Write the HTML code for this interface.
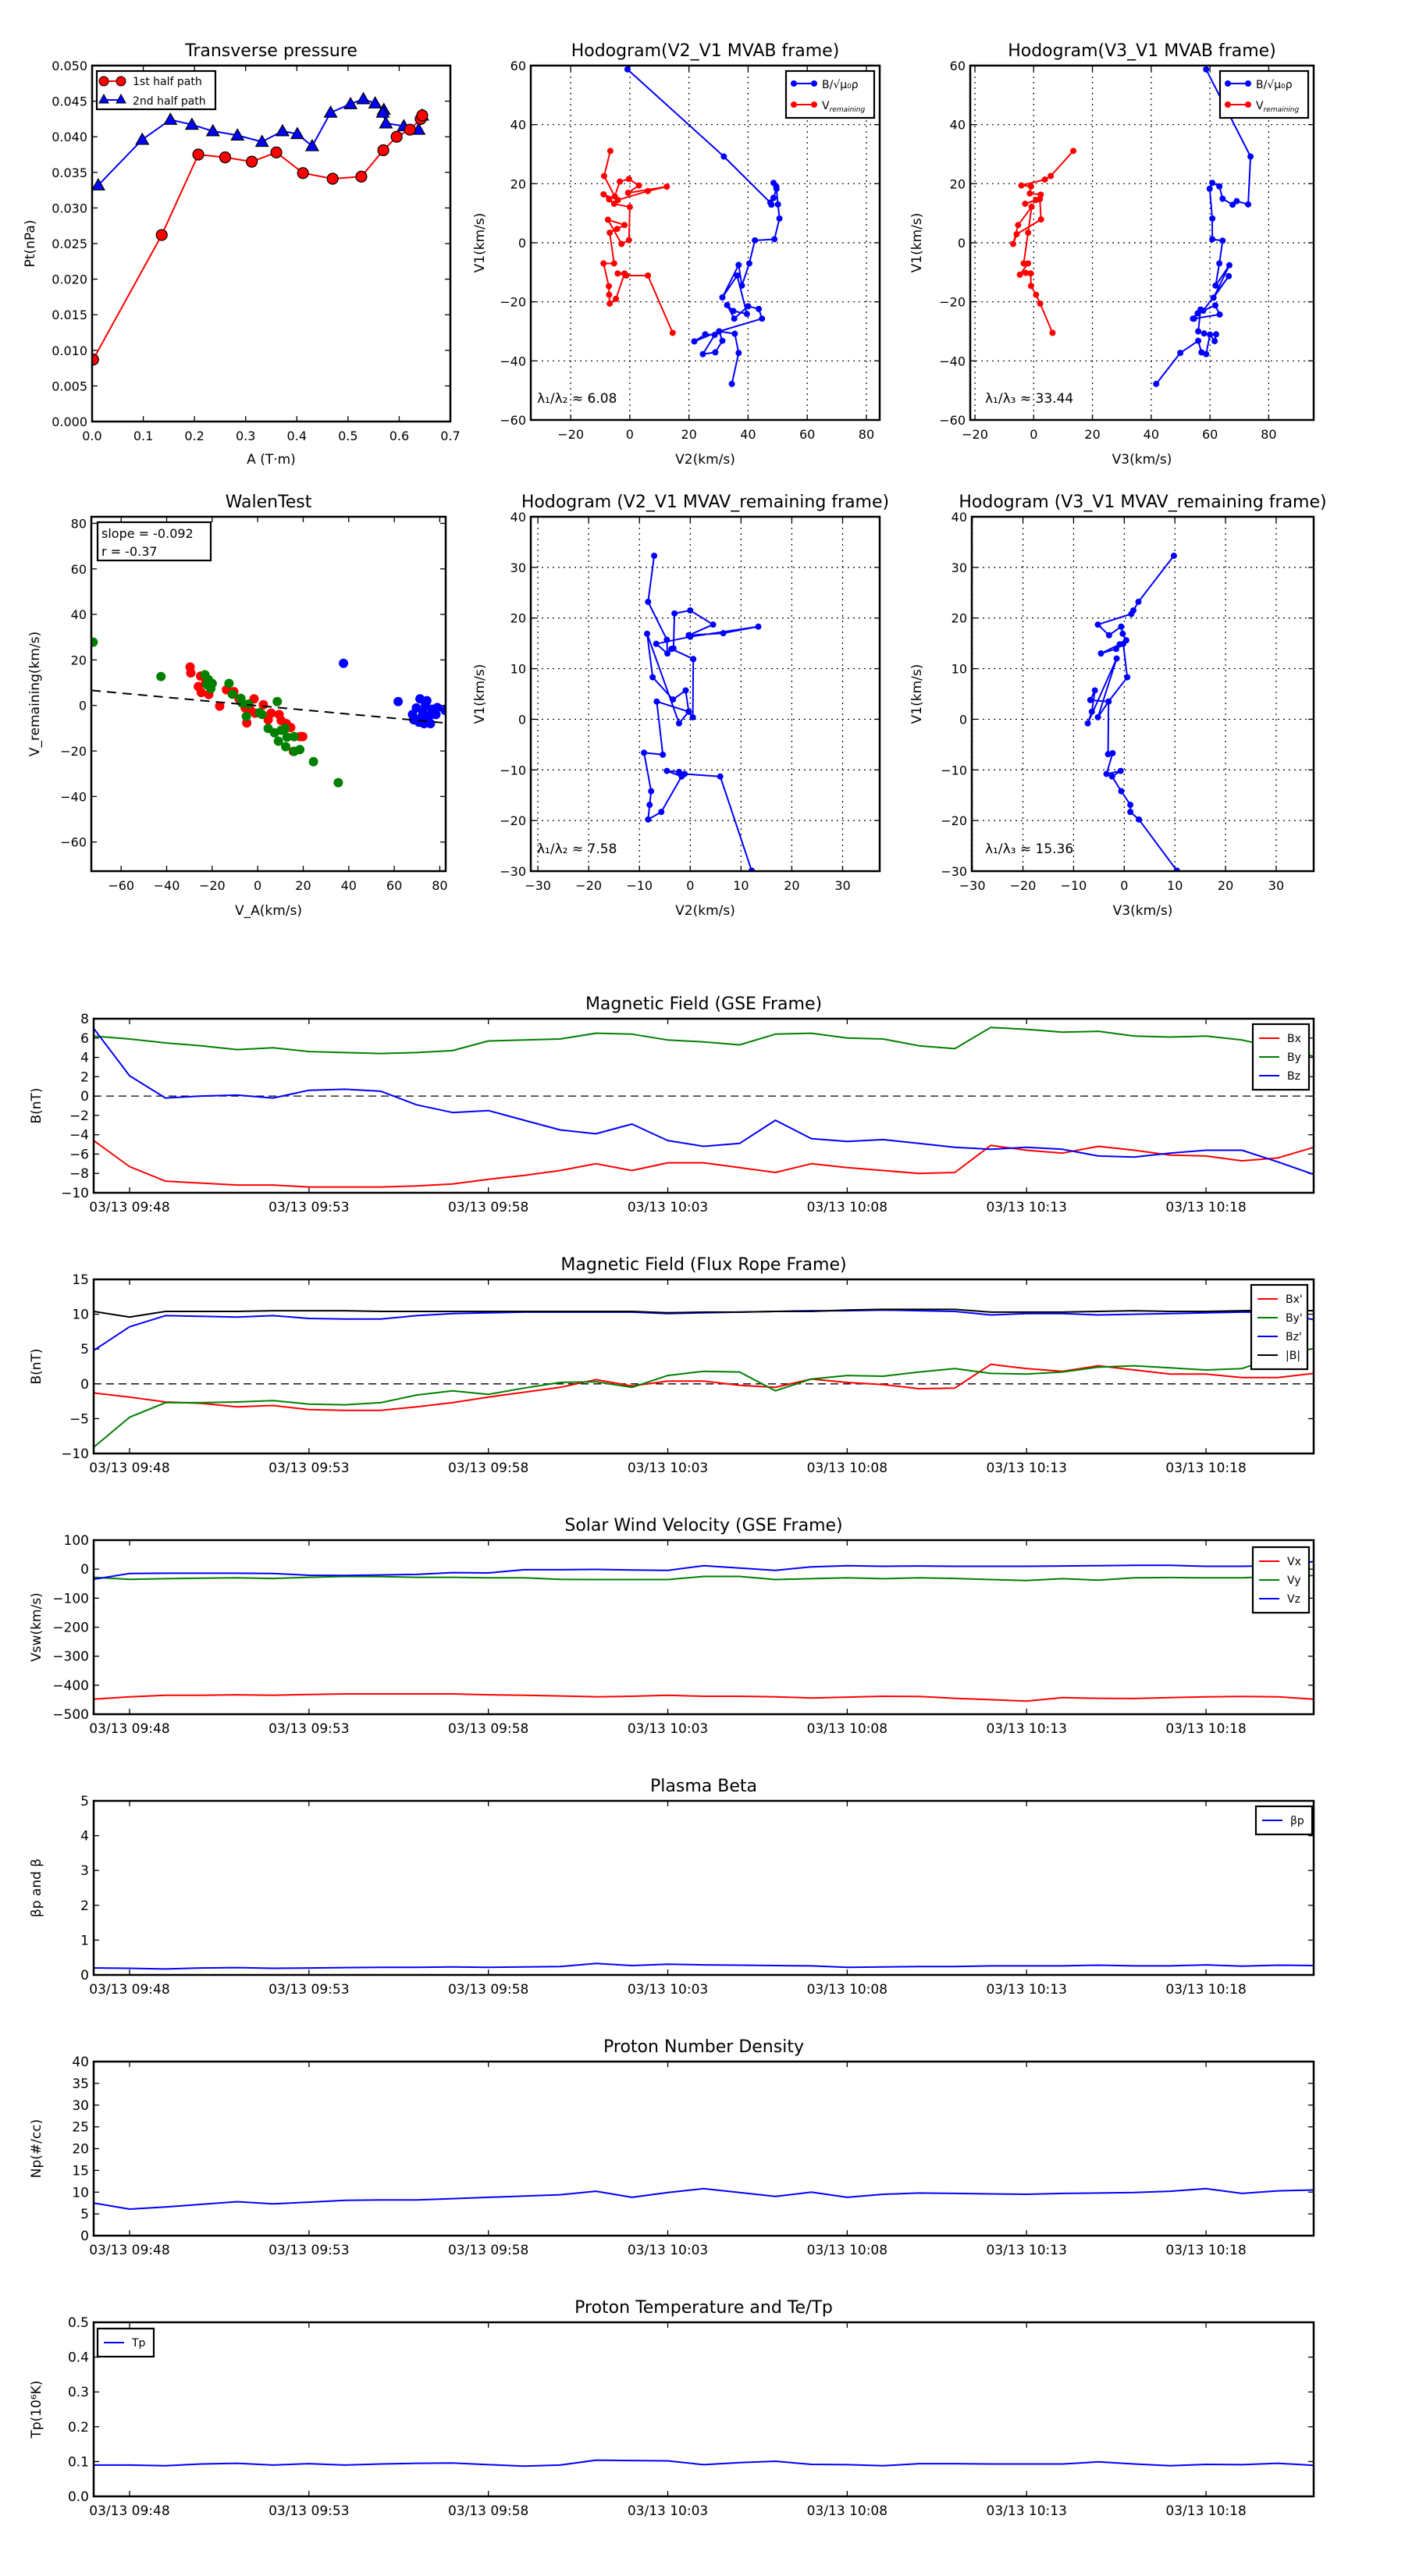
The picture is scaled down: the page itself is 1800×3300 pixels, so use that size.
<!DOCTYPE html>
<html><head><meta charset="utf-8"><title>Flux rope analysis</title>
<style>
html,body{margin:0;padding:0;background:#fff;}
svg{display:block;font-family:"DejaVu Sans","Liberation Sans",sans-serif;}
</style></head>
<body>
<svg id="fig" xmlns="http://www.w3.org/2000/svg" width="1800" height="3300" viewBox="0 0 1800 3300">
<rect x="0" y="0" width="1800" height="3300" fill="#fff"/>
</svg>
<script>
// ---------- Transverse pressure ----------
const tpA1 = [0.002,0.136,0.2075,0.26,0.312,0.36,0.412,0.47,0.526,0.569,0.595,0.621,0.642,0.645];
const tpP1 = [0.0087,0.0262,0.0375,0.0371,0.0365,0.0378,0.0349,0.0341,0.0344,0.0381,0.0400,0.0410,0.0425,0.0430];
const tpA2 = [0.012,0.098,0.153,0.195,0.236,0.284,0.332,0.372,0.401,0.43,0.466,0.505,0.53,0.553,0.57,0.568,0.574,0.609,0.638,0.645];
const tpP2 = [0.0332,0.0396,0.0424,0.0417,0.0408,0.0402,0.0393,0.0408,0.0404,0.0387,0.0434,0.0446,0.0453,0.0447,0.0438,0.0434,0.0419,0.0415,0.0410,0.0430];
// ---------- Hodogram V2-V1 MVAB ----------
const h1BV2 = [-0.8,31.8,47.5,47.9,48.6,49.6,48.6,49.5,50.1,50.6,48.9,42.3,40.4,37.9,36.8,31.3,36.3,39.6,35.0,32.9,35.3,40.0,43.6,44.7,30.2,21.8,25.5,28.7,24.7,28.9,31.3,30.2,35.5,36.8,34.5];
const h1BV1 = [58.7,29.2,13.6,12.9,15.2,18.3,20.3,19.1,13.0,8.2,1.2,0.8,-7.0,-14.5,-7.5,-18.5,-11.1,-24.1,-23.1,-21.1,-25.7,-21.5,-22.4,-25.7,-30.0,-33.4,-31.0,-31.2,-37.7,-37.1,-33.2,-30.0,-30.8,-37.3,-47.8];
const h1VV2 = [-6.6,-8.7,-5.1,-3.4,-0.3,3.1,-0.6,12.5,6.1,-4.0,-8.9,-7.0,-5.3,0,-0.3,-2.8,-7.4,-1.8,-4.3,-6.8,-5.3,-8.9,-7.1,-7.0,-6.8,-4.7,-1.8,-4.1,-1.2,6.1,14.5];
const h1VV1 = [31.1,22.6,15.7,20.7,21.6,19.4,16.9,19.0,17.5,14.5,16.4,14.7,13.2,12.1,0.9,-0.4,7.8,6.0,4.7,3.4,-7.0,-7.0,-14.7,-17.6,-20.6,-19.0,-10.4,-10.4,-11.1,-11.1,-30.5];
// ---------- Hodogram V3-V1 MVAB ----------
const h3BV3 = [58.7,73.8,73.0,69.1,67.7,64.3,63.2,60.8,59.9,60.8,60.8,64.3,63.2,61.9,66.6,61.2,66.4,57.7,55.8,61.8,63.3,54.6,54.2,56.8,56.0,58.0,62.1,61.6,60.0,58.7,57.1,56.0,49.9,41.7];
const h3BV1 = [58.7,29.2,13.0,14.1,12.9,14.9,19.1,20.3,18.3,8.2,1.2,0.7,-7.0,-14.5,-7.6,-18.6,-11.3,-23.0,-23.9,-21.2,-24.3,-25.7,-25.7,-22.6,-30.0,-30.7,-31.0,-33.3,-31.1,-37.7,-37.1,-33.2,-37.3,-47.8];
const h3VV3 = [13.5,5.8,3.8,-4.2,-0.9,-1.3,2.4,0.8,-2.9,2.1,2.5,-5.8,-7.0,-5.3,-0.7,-1.9,-3.4,-1.9,-4.7,-2.7,-1.0,-0.9,0.8,2.2,6.4];
const h3VV1 = [31.1,22.6,21.4,19.4,19.1,16.7,16.3,14.5,13.2,14.8,7.9,2.9,-0.4,6.0,12.2,3.4,-7.0,-7.0,-10.8,-10.2,-10.4,-14.6,-17.6,-20.6,-30.5];
// ---------- Walen test ----------
const walenSlope = -0.092;
const walenIntercept = -0.1;
const wRedX = [-29.7,-29.4,-25.1,-26.1,-24.8,-21.5,-16.7,-13.7,-10.5,-8.2,-5.5,-4.8,-1.6,-1.1,2.5,4.6,5.9,9.4,10.3,12.6,14.5,18.6,19.8,15.7,-22.9,-3.4];
const wRedY = [16.9,14.3,12.9,8.3,5.7,4.8,-0.3,6.9,6.1,2.9,-1.1,-7.7,2.9,-3.4,0.3,-6.3,-3.4,-4.0,-6.6,-8.0,-9.7,-13.7,-13.7,-20.2,9.7,-1.7];
const wGreenX = [-72.3,-42.5,-23.2,-21.7,-20.0,-22.3,-20.6,-12.6,-11.1,-7.4,-6.9,-4.0,-5.0,0.8,1.9,8.6,4.6,7.4,10.3,12.0,9.1,12.3,16.0,12.9,18.5,16.0,24.5,35.4];
const wGreenY = [27.8,12.7,13.5,11.4,9.7,9.1,7.4,9.7,4.9,3.1,1.1,0.6,-4.8,-3.2,-3.9,1.7,-10.1,-12.0,-10.9,-10.1,-15.7,-18.1,-13.7,-13.9,-19.4,-20.2,-24.7,-33.9];
const wBlueX = [37.7,61.7,71.3,74.3,78.9,82.3,68.0,69.7,72.6,75.4,73.1,70.9,75.9,78.3,68.6,73.7,76.6,72.0];
const wBlueY = [18.5,1.7,2.9,2.1,-0.9,-2.1,-4.0,-1.1,-2.9,-4.6,-8.0,-7.4,-8.0,-4.0,-6.3,0.0,-1.7,-5.1];
// ---------- Hodogram MVAV V2 ----------
const h4V2 = [-7.1,-8.3,-4.6,-4.5,-6.7,0,13.4,6.5,-0.3,4.5,0,-3.1,-3.3,-3.7,0.6,0.5,-0.3,-0.9,-3.4,-7.4,-8.5,-2.2,-0.3,-6.6,-5.4,-9.1,-7.7,-8.0,-8.3,-5.7,-1.7,-4.6,-2.2,-1.1,5.9,12.1];
const h4V1 = [32.3,23.2,15.7,13.0,14.9,16.3,18.3,17.0,16.6,18.7,21.5,20.9,14.0,13.9,11.9,0.4,1.5,5.7,3.9,8.3,16.9,-0.8,1.5,3.5,-7.0,-6.6,-14.2,-16.9,-19.8,-18.3,-11.3,-10.2,-10.4,-10.8,-11.3,-29.9];
// ---------- Hodogram MVAV V3 ----------
const h5V3 = [9.8,2.8,1.8,1.4,-5.2,-3.0,-0.6,-0.3,0.4,-0.9,-4.6,-1.6,-0.2,0.6,-3.1,-6.7,-5.8,-6.4,-7.2,-1.5,-5.2,-3.1,-3.2,-2.3,-3.5,-0.7,-2.4,-0.6,1.2,1.2,2.9,10.4];
const h5V1 = [32.3,23.2,21.5,20.8,18.7,16.6,18.3,16.9,15.6,14.8,13.0,13.9,14.9,8.3,3.5,3.8,5.7,1.5,-0.8,12.0,0.4,3.5,-6.9,-6.7,-10.8,-10.2,-11.3,-14.2,-16.9,-18.3,-19.8,-29.9];
// ---------- Time series (one sample per minute from 09:47) ----------
const timeTickLabels = ["03/13 09:48","03/13 09:53","03/13 09:58","03/13 10:03","03/13 10:08","03/13 10:13","03/13 10:18"];
const timeTickMinutes = [1,6,11,16,21,26,31];
const gseBx = [-4.6,-7.3,-8.8,-9.0,-9.2,-9.2,-9.4,-9.4,-9.4,-9.3,-9.1,-8.6,-8.2,-7.7,-7.0,-7.7,-6.9,-6.9,-7.4,-7.9,-7.0,-7.4,-7.7,-8.0,-7.9,-5.1,-5.6,-5.9,-5.2,-5.6,-6.1,-6.2,-6.7,-6.4,-5.3];
const gseBy = [6.2,5.9,5.5,5.2,4.8,5.0,4.6,4.5,4.4,4.5,4.7,5.7,5.8,5.9,6.5,6.4,5.8,5.6,5.3,6.4,6.5,6.0,5.9,5.2,4.9,7.1,6.9,6.6,6.7,6.2,6.1,6.2,5.8,5.0,4.1];
const gseBz = [7,2.1,-0.2,0,0.1,-0.2,0.6,0.7,0.5,-0.9,-1.7,-1.5,-2.5,-3.5,-3.9,-2.9,-4.6,-5.2,-4.9,-2.5,-4.4,-4.7,-4.5,-4.9,-5.3,-5.5,-5.3,-5.5,-6.2,-6.3,-5.9,-5.6,-5.6,-6.8,-8.1];
const frBx = [-1.3,-1.9,-2.6,-2.8,-3.3,-3.1,-3.7,-3.8,-3.8,-3.3,-2.7,-1.9,-1.2,-0.5,0.6,-0.3,0.4,0.4,-0.2,-0.5,0.7,0.2,-0.1,-0.7,-0.6,2.8,2.2,1.8,2.6,2.0,1.4,1.4,0.9,0.9,1.5];
const frBy = [-9.1,-4.8,-2.7,-2.7,-2.6,-2.4,-2.9,-3.0,-2.7,-1.6,-1.0,-1.5,-0.6,0.2,0.3,-0.5,1.2,1.8,1.7,-1.0,0.7,1.2,1.1,1.7,2.2,1.5,1.4,1.7,2.4,2.6,2.3,2.0,2.2,3.9,5.1];
const frBz = [4.8,8.2,9.8,9.7,9.6,9.8,9.4,9.3,9.3,9.8,10.1,10.2,10.3,10.3,10.3,10.3,10.1,10.2,10.3,10.4,10.5,10.5,10.6,10.5,10.4,9.9,10.1,10.1,9.9,10.0,10.1,10.2,10.3,10.3,9.2];
const frBt = [10.4,9.6,10.4,10.4,10.4,10.5,10.5,10.5,10.4,10.4,10.4,10.4,10.4,10.4,10.4,10.4,10.2,10.3,10.3,10.4,10.4,10.6,10.7,10.7,10.7,10.3,10.3,10.3,10.4,10.5,10.4,10.4,10.5,10.6,10.5];
const vswVx = [-448,-440,-435,-435,-433,-435,-432,-430,-430,-430,-430,-433,-435,-437,-440,-438,-435,-438,-438,-440,-444,-441,-438,-439,-445,-450,-455,-443,-445,-446,-443,-440,-439,-440,-448];
const vswVy = [-28,-35,-33,-31,-30,-32,-28,-25,-26,-28,-28,-30,-30,-35,-36,-36,-36,-25,-25,-36,-33,-30,-33,-30,-32,-36,-39,-33,-38,-30,-29,-30,-30,-25,-22];
const vswVz = [-35,-15,-14,-14,-14,-15,-21,-22,-20,-18,-12,-13,-2,-2,-1,-3,-4,12,4,-4,8,12,10,11,10,10,10,11,12,13,13,10,10,12,26];
const betaP = [0.2,0.19,0.17,0.2,0.21,0.19,0.2,0.21,0.22,0.22,0.23,0.22,0.23,0.24,0.33,0.27,0.31,0.29,0.28,0.27,0.26,0.22,0.23,0.24,0.24,0.26,0.26,0.26,0.28,0.26,0.26,0.29,0.25,0.28,0.27];
const densNp = [7.5,6.1,6.6,7.2,7.8,7.3,7.7,8.1,8.2,8.2,8.5,8.8,9.1,9.4,10.2,8.8,9.9,10.8,9.9,9.0,10.0,8.8,9.5,9.8,9.7,9.6,9.5,9.7,9.8,9.9,10.2,10.8,9.7,10.3,10.5];
const tempTp = [0.090,0.090,0.088,0.093,0.095,0.090,0.094,0.090,0.093,0.095,0.096,0.091,0.087,0.090,0.104,0.103,0.102,0.091,0.097,0.101,0.092,0.091,0.088,0.094,0.094,0.093,0.093,0.093,0.099,0.093,0.088,0.092,0.091,0.095,0.089];

const NS = "http://www.w3.org/2000/svg";
const svg = document.getElementById("fig");
let clipId = 0;
function mk(tag, attrs, parent) {
  const e = document.createElementNS(NS, tag);
  for (const k in attrs) e.setAttribute(k, attrs[k]);
  (parent || svg).appendChild(e);
  return e;
}
function txt(parent, x, y, s, size, anchor, name, extra) {
  const t = mk("text", Object.assign({x: x, y: y, "font-size": size, "text-anchor": anchor || "middle", fill: "#000"}, extra || {}), parent);
  t.textContent = s;
  
  
  return t;
}
function panel(o) {
  const g = mk("g", {});
  
  
  const sx = v => o.x0 + (v - o.xmin) / (o.xmax - o.xmin) * o.w;
  const sy = v => o.y0 + o.h - (v - o.ymin) / (o.ymax - o.ymin) * o.h;
  const id = "clip" + (clipId++);
  const cp = mk("clipPath", {id: id}, g);
  mk("rect", {x: o.x0, y: o.y0, width: o.w, height: o.h}, cp);
  const tl = 7;
  if (o.grid) {
    o.xticks.forEach(v => {
      const gl = mk("line", {x1: sx(v), x2: sx(v), y1: o.y0, y2: o.y0 + o.h, stroke: "#000", "stroke-width": 1.2, "stroke-dasharray": "2,5"}, g);
      
      
    });
    o.yticks.forEach(v => {
      const gl = mk("line", {x1: o.x0, x2: o.x0 + o.w, y1: sy(v), y2: sy(v), stroke: "#000", "stroke-width": 1.2, "stroke-dasharray": "2,5"}, g);
      
      
    });
  }
  o.xticks.forEach((v, i) => {
    const X = sx(v);
    mk("line", {x1: X, x2: X, y1: o.y0 + o.h, y2: o.y0 + o.h - tl, stroke: "#000", "stroke-width": 1.3}, g);
    mk("line", {x1: X, x2: X, y1: o.y0, y2: o.y0 + tl, stroke: "#000", "stroke-width": 1.3}, g);
    txt(g, X, o.y0 + o.h + 24, o.xlabels ? o.xlabels[i] : o.xfmt(v), o.tickSize || 17, "middle", "x-tick-label");
  });
  o.yticks.forEach(v => {
    const Y = sy(v);
    mk("line", {x1: o.x0, x2: o.x0 + tl, y1: Y, y2: Y, stroke: "#000", "stroke-width": 1.3}, g);
    mk("line", {x1: o.x0 + o.w, x2: o.x0 + o.w - tl, y1: Y, y2: Y, stroke: "#000", "stroke-width": 1.3}, g);
    txt(g, o.x0 - 6, Y + 6, o.yfmt(v), o.tickSize || 17, "end", "y-tick-label");
  });
  const plot = mk("g", {"clip-path": "url(#" + id + ")"}, g);
  
  
  const fr = mk("rect", {x: o.x0, y: o.y0, width: o.w, height: o.h, fill: "none", stroke: "#000", "stroke-width": 2.5}, g);
  
  
  txt(g, o.x0 + o.w / 2, o.y0 - 12, o.title, 22, "middle", "chart-title");
  if (o.xlabel) txt(g, o.x0 + o.w / 2, o.xlabelY || (o.y0 + o.h + 56), o.xlabel, 17, "middle", "x-axis-title");
  if (o.ylabel) {
    txt(g, 0, 0, o.ylabel, 17, "middle", "y-axis-title", {transform: "translate(" + o.ylabelX + "," + (o.y0 + o.h / 2) + ") rotate(-90)"});
  }
  return {g: g, plot: plot, sx: sx, sy: sy};
}
function series(P, xs, ys, color, name, width) {
  const d = xs.map((x, i) => (i ? "L" : "M") + P.sx(x).toFixed(1) + "," + P.sy(ys[i]).toFixed(1)).join("");
  const p = mk("path", {d: d, fill: "none", stroke: color, "stroke-width": width || 2, "stroke-linejoin": "round"}, P.plot);
  
  
  return p;
}
function dots(P, xs, ys, color, r, name, edge) {
  xs.forEach((x, i) => {
    const c = mk("circle", {cx: P.sx(x), cy: P.sy(ys[i]), r: r, fill: color, stroke: edge || color, "stroke-width": edge ? 1.2 : 0}, P.plot);
    
    
  });
}
function tris(P, xs, ys, color, name) {
  xs.forEach((x, i) => {
    const X = P.sx(x), Y = P.sy(ys[i]), s = 8;
    const t = mk("polygon", {points: X + "," + (Y - s) + " " + (X - s) + "," + (Y + s * 0.75) + " " + (X + s) + "," + (Y + s * 0.75), fill: color, stroke: "#000", "stroke-width": 1.2}, P.plot);
    
    
  });
}
function hline(P, v, xmin, xmax, name) {
  const l = mk("line", {x1: P.sx(xmin), x2: P.sx(xmax), y1: P.sy(v), y2: P.sy(v), stroke: "#000", "stroke-width": 1.3, "stroke-dasharray": "10,6"}, P.plot);
  
  
}
function box(x, y, w, h, name) {
  const g = mk("g", {});
  
  
  mk("rect", {x: x, y: y, width: w, height: h, fill: "#fff", stroke: "#000", "stroke-width": 2.2}, g);
  return g;
}
function legLine(g, x, y, color, label, name, marker) {
  const l = mk("line", {x1: x, x2: x + 26, y1: y, y2: y, stroke: color, "stroke-width": 2}, g);
  
  
  if (marker === "dot") { mk("circle", {cx: x, cy: y, r: 4, fill: color}, g); mk("circle", {cx: x + 26, cy: y, r: 4, fill: color}, g); }
  return txt(g, x + 36, y + 5, label, 14, "start", name);
}
const numFmt = d => v => v.toFixed(d);
const negFmt = v => (v < 0 ? "\u2212" + Math.abs(v) : String(v));

// ===== Transverse pressure =====
const tp = panel({name: "transverse-pressure-chart", x0: 118, y0: 84, w: 459, h: 456, xmin: 0, xmax: 0.7, ymin: 0, ymax: 0.05,
  xticks: [0,0.1,0.2,0.3,0.4,0.5,0.6,0.7], yticks: [0,0.005,0.01,0.015,0.02,0.025,0.03,0.035,0.04,0.045,0.05],
  xfmt: numFmt(1), yfmt: numFmt(3), title: "Transverse pressure", xlabel: "A (T\u00b7m)", xlabelY: 594, ylabel: "Pt(nPa)", ylabelX: 44, tickSize: 16});
series(tp, tpA1, tpP1, "#f00", "first-half-path-line", 2);
series(tp, tpA2, tpP2, "#00f", "second-half-path-line", 2);
tris(tp, tpA2, tpP2, "#00f", "second-half-marker");
dots(tp, tpA1, tpP1, "#f00", 7, "first-half-marker", "#000");
{
  const g = box(124, 91, 152, 49, "tp-legend");
  mk("line", {x1: 133, x2: 155, y1: 104, y2: 104, stroke: "#f00", "stroke-width": 2}, g);
  mk("circle", {cx: 133, cy: 104, r: 6, fill: "#f00", stroke: "#000"}, g);
  mk("circle", {cx: 155, cy: 104, r: 6, fill: "#f00", stroke: "#000"}, g);
  txt(g, 170, 109, "1st half path", 14, "start", "legend-entry-1st-half");
  mk("line", {x1: 133, x2: 155, y1: 128, y2: 128, stroke: "#00f", "stroke-width": 2}, g);
  mk("polygon", {points: "133,121 127,132 139,132", fill: "#00f", stroke: "#000"}, g);
  mk("polygon", {points: "155,121 149,132 161,132", fill: "#00f", stroke: "#000"}, g);
  txt(g, 170, 134, "2nd half path", 14, "start", "legend-entry-2nd-half");
}
function hodoLegend(x) {
  const g = box(x, 91, 113, 60, "hodogram-legend");
  legLine(g, x + 10, 107, "#00f", "", "legend-entry-b", "dot");
  txt(g, x + 46, 113, "B/\u221a\u03bc\u2080\u03c1", 14, "start", "legend-label-b");
  legLine(g, x + 10, 134, "#f00", "", "legend-entry-v", "dot");
  const t2 = txt(g, x + 46, 140, "V", 14, "start", "legend-label-v");
  const s = mk("tspan", {"font-size": 9, "font-style": "italic", dy: 3}, t2); s.textContent = "remaining";
}
// ===== Hodogram V2-V1 MVAB =====
const h1 = panel({name: "hodogram-v2-v1-mvab", x0: 680, y0: 84, w: 447, h: 454, xmin: -33.5, xmax: 84.5, ymin: -60, ymax: 60,
  xticks: [-20,0,20,40,60,80], yticks: [-60,-40,-20,0,20,40,60], xfmt: negFmt, yfmt: negFmt, grid: true,
  title: "Hodogram(V2_V1 MVAB frame)", xlabel: "V2(km/s)", xlabelY: 594, ylabel: "V1(km/s)", ylabelX: 620, tickSize: 16});
series(h1, h1BV2, h1BV1, "#00f", "b-alfven-path", 2); dots(h1, h1BV2, h1BV1, "#00f", 4, "b-point");
series(h1, h1VV2, h1VV1, "#f00", "v-remaining-path", 2); dots(h1, h1VV2, h1VV1, "#f00", 4, "v-point");
hodoLegend(1007);
txt(svg, 688, 516, "\u03bb\u2081/\u03bb\u2082 \u2248 6.08", 17, "start", "eigenvalue-ratio-label");
// ===== Hodogram V3-V1 MVAB =====
const h3 = panel({name: "hodogram-v3-v1-mvab", x0: 1243, y0: 84, w: 440, h: 454, xmin: -21.6, xmax: 95.3, ymin: -60, ymax: 60,
  xticks: [-20,0,20,40,60,80], yticks: [-60,-40,-20,0,20,40,60], xfmt: negFmt, yfmt: negFmt, grid: true,
  title: "Hodogram(V3_V1 MVAB frame)", xlabel: "V3(km/s)", xlabelY: 594, ylabel: "V1(km/s)", ylabelX: 1180, tickSize: 16});
series(h3, h3BV3, h3BV1, "#00f", "b-alfven-path", 2); dots(h3, h3BV3, h3BV1, "#00f", 4, "b-point");
series(h3, h3VV3, h3VV1, "#f00", "v-remaining-path", 2); dots(h3, h3VV3, h3VV1, "#f00", 4, "v-point");
hodoLegend(1563);
txt(svg, 1262, 516, "\u03bb\u2081/\u03bb\u2083 \u2248 33.44", 17, "start", "eigenvalue-ratio-label");
// ===== Walen test =====
const wt = panel({name: "walen-test-chart", x0: 117, y0: 662, w: 454, h: 454, xmin: -73.1, xmax: 82.6, ymin: -72.8, ymax: 82.9,
  xticks: [-60,-40,-20,0,20,40,60,80], yticks: [-60,-40,-20,0,20,40,60,80], xfmt: negFmt, yfmt: negFmt,
  title: "WalenTest", xlabel: "V_A(km/s)", xlabelY: 1172, ylabel: "V_remaining(km/s)", ylabelX: 50, tickSize: 16});
dots(wt, wRedX, wRedY, "#f00", 6, "walen-red-point");
dots(wt, wGreenX, wGreenY, "#008000", 6, "walen-green-point");
dots(wt, wBlueX, wBlueY, "#00f", 6, "walen-blue-point");
{
  const fx = [-73.1, 82.6];
  const fy = fx.map(v => walenSlope * v + walenIntercept);
  const l = series(wt, fx, fy, "#000", "walen-fit-line", 2);
  l.setAttribute("stroke-dasharray", "12,8");
  const g = box(125, 669, 145, 49, "walen-stats-box");
  txt(g, 130, 689, "slope = -0.092", 16, "start", "slope-label");
  txt(g, 130, 712, "r = -0.37", 16, "start", "r-label");
}
// ===== Hodogram MVAV V2 =====
const h4 = panel({name: "hodogram-v2-v1-mvav", x0: 680, y0: 662, w: 447, h: 454, xmin: -31.4, xmax: 37.3, ymin: -30, ymax: 40,
  xticks: [-30,-20,-10,0,10,20,30], yticks: [-30,-20,-10,0,10,20,30,40], xfmt: negFmt, yfmt: negFmt, grid: true,
  title: "Hodogram (V2_V1 MVAV_remaining frame)", xlabel: "V2(km/s)", xlabelY: 1172, ylabel: "V1(km/s)", ylabelX: 620, tickSize: 16});
series(h4, h4V2, h4V1, "#00f", "v-remaining-path", 2); dots(h4, h4V2, h4V1, "#00f", 4, "v-point");
txt(svg, 688, 1093, "\u03bb\u2081/\u03bb\u2082 \u2248 7.58", 17, "start", "eigenvalue-ratio-label");
// ===== Hodogram MVAV V3 =====
const h5 = panel({name: "hodogram-v3-v1-mvav", x0: 1245, y0: 662, w: 438, h: 454, xmin: -30.1, xmax: 37.4, ymin: -30, ymax: 40,
  xticks: [-30,-20,-10,0,10,20,30], yticks: [-30,-20,-10,0,10,20,30,40], xfmt: negFmt, yfmt: negFmt, grid: true,
  title: "Hodogram (V3_V1 MVAV_remaining frame)", xlabel: "V3(km/s)", xlabelY: 1172, ylabel: "V1(km/s)", ylabelX: 1180, tickSize: 16});
series(h5, h5V3, h5V1, "#00f", "v-remaining-path", 2); dots(h5, h5V3, h5V1, "#00f", 4, "v-point");
txt(svg, 1262, 1093, "\u03bb\u2081/\u03bb\u2083 \u2248 15.36", 17, "start", "eigenvalue-ratio-label");

// ===== Time series panels =====
const minutes = gseBx.map((v, i) => i);
function tsPanel(k, name, title, ymin, ymax, yticks, yfmt, ylabel) {
  return panel({name: name, x0: 120, y0: 1305 + 334 * k, w: 1563, h: 223, xmin: 0, xmax: 34, ymin: ymin, ymax: ymax,
    xticks: timeTickMinutes, xlabels: timeTickLabels, yticks: yticks, yfmt: yfmt, title: title, ylabel: ylabel, ylabelX: 52, tickSize: 17});
}
function tsLegend(x, y, entries, name) {
  const g = box(x, y, 72, 12 + entries.length * 24, name);
  entries.forEach((e, i) => legLine(g, x + 8, y + 18 + i * 24, e[0], e[1], "legend-entry-" + e[1].toLowerCase().replace(/[^a-z]/g, "")));
}
const p1 = tsPanel(0, "magnetic-field-gse-chart", "Magnetic Field (GSE Frame)", -10, 8, [-10,-8,-6,-4,-2,0,2,4,6,8], negFmt, "B(nT)");
hline(p1, 0, 0, 34, "zero-line");
series(p1, minutes, gseBx, "#f00", "bx-line"); series(p1, minutes, gseBy, "#008000", "by-line"); series(p1, minutes, gseBz, "#00f", "bz-line");
tsLegend(1605, 1312, [["#f00","Bx"],["#008000","By"],["#00f","Bz"]], "gse-legend");

const p2 = tsPanel(1, "magnetic-field-flux-rope-chart", "Magnetic Field (Flux Rope Frame)", -10, 15, [-10,-5,0,5,10,15], negFmt, "B(nT)");
hline(p2, 0, 0, 34, "zero-line");
series(p2, minutes, frBx, "#f00", "bx-prime-line"); series(p2, minutes, frBy, "#008000", "by-prime-line");
series(p2, minutes, frBz, "#00f", "bz-prime-line"); series(p2, minutes, frBt, "#000", "b-total-line");
tsLegend(1603, 1646, [["#f00","Bx'"],["#008000","By'"],["#00f","Bz'"],["#000","|B|"]], "flux-rope-legend");

const p3 = tsPanel(2, "solar-wind-velocity-chart", "Solar Wind Velocity (GSE Frame)", -500, 100, [-500,-400,-300,-200,-100,0,100], negFmt, "Vsw(km/s)");
series(p3, minutes, vswVx, "#f00", "vx-line"); series(p3, minutes, vswVy, "#008000", "vy-line"); series(p3, minutes, vswVz, "#00f", "vz-line");
tsLegend(1605, 1982, [["#f00","Vx"],["#008000","Vy"],["#00f","Vz"]], "velocity-legend");

const p4 = tsPanel(3, "plasma-beta-chart", "Plasma Beta", 0, 5, [0,1,2,3,4,5], negFmt, "\u03b2p and \u03b2");
series(p4, minutes, betaP, "#00f", "beta-p-line");
tsLegend(1609, 2314, [["#00f","\u03b2p"]], "beta-legend");

const p5 = tsPanel(4, "proton-density-chart", "Proton Number Density", 0, 40, [0,5,10,15,20,25,30,35,40], negFmt, "Np(#/cc)");
series(p5, minutes, densNp, "#00f", "np-line");

const p6 = tsPanel(5, "proton-temperature-chart", "Proton Temperature and Te/Tp", 0, 0.5, [0,0.1,0.2,0.3,0.4,0.5], numFmt(1), "Tp(10\u2076K)");
series(p6, minutes, tempTp, "#00f", "tp-line");
tsLegend(125, 2983, [["#00f","Tp"]], "temperature-legend");
</script>
</body></html>
